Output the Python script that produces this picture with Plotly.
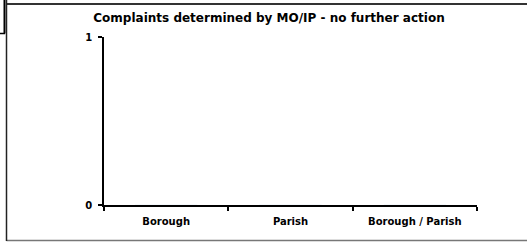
import plotly.graph_objects as go

categories = ["Borough", "Parish", "Borough / Parish"]
values = [0, 0, 0]
y_ticks = [0, 1]
title_text = "Complaints determined by MO/IP - no further action"

W, H = 527, 242
L, R, T, B = 104, 477, 37, 205  # plot area pixel bounds

def px(x):
    return (x - L) / (R - L)

def py(y):
    return (B - y) / (B - T)

fig = go.Figure(go.Bar(x=categories, y=values, marker_color="#000080"))

shapes = [
    # outer border: top, bottom, left
    dict(type="line", xref="paper", yref="paper", x0=px(6.5), x1=px(527), y0=py(4), y1=py(4),
         line=dict(color="#333", width=2)),
    dict(type="line", xref="paper", yref="paper", x0=px(6.5), x1=px(527), y0=py(240.5), y1=py(240.5),
         line=dict(color="#777", width=1.5)),
    dict(type="line", xref="paper", yref="paper", x0=px(6.5), x1=px(6.5), y0=py(0), y1=py(241),
         line=dict(color="#222", width=1.5)),
    # thick segment at top-left
    dict(type="line", xref="paper", yref="paper", x0=px(4.5), x1=px(4.5), y0=py(0), y1=py(33.5),
         line=dict(color="#000", width=2)),
    dict(type="line", xref="paper", yref="paper", x0=px(0), x1=px(5), y0=py(33.5), y1=py(33.5),
         line=dict(color="#000", width=1.5)),
]

FONT = "DejaVu Sans"

fig.update_layout(
    width=W, height=H,
    margin=dict(l=L, r=W - R, t=T, b=H - B, pad=0),
    paper_bgcolor="white", plot_bgcolor="white",
    showlegend=False,
    font=dict(family=FONT, color="#000", size=10),
    title=dict(text="<b>" + title_text + "</b>", xref="container", x=269 / W, xanchor="center",
               yref="container", y=1 - 18 / H, yanchor="middle",
               font=dict(size=12, color="#000", family=FONT)),
    shapes=shapes,
    bargap=0.5,
)
fig.update_xaxes(
    showline=True, linecolor="#000", linewidth=1.5,
    ticks="outside", ticklen=4, tickwidth=1.5, tickcolor="#000",
    tickson="boundaries", showgrid=False, zeroline=False,
    tickfont=dict(size=10, family=FONT, weight="bold"),
    ticklabelstandoff=6,
    range=[-0.5, 2.5],
)
fig.update_yaxes(
    range=[0, 1], tickvals=y_ticks, ticktext=[str(v) for v in y_ticks],
    showline=True, linecolor="#000", linewidth=1.5,
    ticks="outside", ticklen=4, tickwidth=1.5, tickcolor="#000",
    showgrid=False, zeroline=False,
    tickfont=dict(size=10, family=FONT, weight="bold"),
    ticklabelstandoff=4,
)

fig.write_html("out.html", config={"displayModeBar": False},
               post_script="document.body.style.margin='0';")
